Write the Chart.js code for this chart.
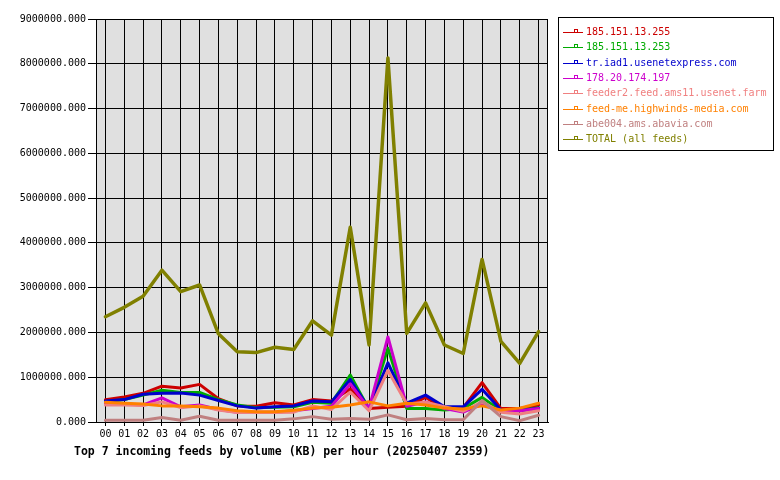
<!DOCTYPE html>
<html>
<head>
<meta charset="utf-8">
<script src="https://cdn.jsdelivr.net/npm/chart.js@4/dist/chart.umd.min.js"></script>
<style>
html,body{margin:0;padding:0;background:#fff;}
canvas{display:block;}
</style>
</head>
<body>
<canvas id="c" width="780" height="480"></canvas>
<script>
const hours = ['00','01','02','03','04','05','06','07','08','09','10','11','12','13','14','15','16','17','18','19','20','21','22','23'];
const feedNames = ['185.151.13.255','185.151.13.253','tr.iad1.usenetexpress.com','178.20.174.197','feeder2.feed.ams11.usenet.farm','feed-me.highwinds-media.com','abe004.ams.abavia.com','TOTAL (all feeds)'];
const feed255 = [500000,560000,640000,800000,760000,840000,520000,360000,350000,430000,380000,500000,470000,740000,300000,330000,350000,550000,300000,320000,880000,300000,300000,380000];
const feed253 = [450000,500000,600000,710000,660000,660000,500000,380000,320000,330000,340000,440000,420000,1050000,280000,1650000,300000,300000,270000,300000,550000,250000,260000,320000];
const feedUsenetexpress = [470000,500000,620000,640000,650000,600000,480000,360000,310000,340000,360000,470000,450000,950000,300000,1320000,420000,600000,340000,340000,730000,270000,250000,310000];
const feed197 = [420000,400000,380000,540000,340000,380000,280000,220000,220000,220000,250000,300000,350000,850000,300000,1900000,350000,450000,300000,220000,400000,250000,250000,300000];
const feedFeeder2 = [380000,380000,370000,450000,320000,360000,270000,210000,210000,210000,220000,360000,280000,670000,250000,1150000,400000,440000,340000,240000,450000,220000,180000,250000];
const feedHighwinds = [440000,420000,400000,360000,360000,340000,310000,250000,230000,230000,260000,310000,330000,380000,450000,360000,420000,380000,310000,290000,360000,270000,310000,420000];
const feedAbavia = [40000,40000,40000,100000,40000,130000,40000,40000,40000,40000,70000,120000,60000,80000,60000,160000,50000,80000,50000,50000,480000,120000,30000,150000];
const feedTotal = [2350000,2560000,2810000,3390000,2910000,3060000,1970000,1570000,1550000,1670000,1620000,2260000,1940000,4350000,1720000,8130000,1980000,2660000,1720000,1530000,3630000,1800000,1310000,2020000];
const yTickStep = 1000000;
const yMax = 9000000;
const chartTitle = 'Top 7 incoming feeds by volume (KB) per hour (20250407 2359)';

const seriesValues = [feed255, feed253, feedUsenetexpress, feed197, feedFeeder2, feedHighwinds, feedAbavia, feedTotal];
const seriesColors = ['#cc0000','#00aa00','#0000cc','#cc00cc','#f08080','#ff8000','#c08080','#808000'];

const FONT = 'DejaVu Sans Mono';

const datasets = seriesValues.map((vals, i) => ({
  label: feedNames[i],
  data: vals,
  borderColor: seriesColors[i],
  backgroundColor: seriesColors[i],
  borderWidth: i === seriesValues.length - 1 ? 3.5 : 3,
  borderJoinStyle: 'round',
  borderCapStyle: 'round',
  pointRadius: 0,
  tension: 0,
  fill: false,
  order: seriesValues.length - i
}));

const decor = {
  id: 'decor',
  beforeDraw(chart) {
    const a = chart.chartArea;
    const ctx = chart.ctx;
    ctx.save();
    ctx.fillStyle = '#fff';
    ctx.fillRect(0, 0, chart.width, chart.height);
    ctx.fillStyle = '#e0e0e0';
    ctx.fillRect(a.left, a.top, a.right - a.left, a.bottom - a.top);
    ctx.restore();
  },
  afterDraw(chart) {
    const a = chart.chartArea;
    const ctx = chart.ctx;
    ctx.save();
    ctx.strokeStyle = '#000';
    ctx.lineWidth = 1;
    ctx.strokeRect(Math.round(a.left) + 0.5, Math.round(a.top) + 0.5, Math.round(a.right - a.left) - 1, Math.round(a.bottom - a.top));
    // legend
    const lx = 558, ly = 17, lw = 215, lh = 133;
    ctx.fillStyle = '#fff';
    ctx.fillRect(lx, ly, lw, lh);
    ctx.strokeRect(lx + 0.5, ly + 0.5, lw, lh);
    ctx.font = '10px "' + FONT + '"';
    ctx.textBaseline = 'middle';
    ctx.textAlign = 'left';
    chart.data.datasets.forEach((ds, i) => {
      const y = Math.round(32 + i * 15.3) + 0.5;
      ctx.strokeStyle = ds.borderColor;
      ctx.beginPath();
      ctx.moveTo(563, y);
      ctx.lineTo(583, y);
      ctx.stroke();
      ctx.strokeRect(574.5, y - 3, 3, 3);
      ctx.fillStyle = ds.borderColor;
      ctx.fillText(ds.label, 586, y);
    });
    // title
    ctx.fillStyle = '#000';
    ctx.font = 'bold 11.5px "' + FONT + '"';
    ctx.textBaseline = 'middle';
    ctx.fillText(chartTitle, 74, 452);
    ctx.restore();
  }
};

new Chart(document.getElementById('c'), {
  type: 'line',
  data: { labels: hours, datasets },
  options: {
    responsive: false,
    animation: false,
    devicePixelRatio: 1,
    layout: { padding: { top: 19, right: 232, left: 0, bottom: 0 } },
    plugins: { legend: { display: false }, tooltip: { enabled: false }, title: { display: false } },
    scales: {
      x: {
        type: 'category',
        offset: true,
        grid: { offset: false, color: '#000', lineWidth: 1, tickLength: 4, drawTicks: true },
        border: { color: '#000' },
        ticks: { color: '#000', font: { family: FONT, size: 10 }, padding: 2, maxRotation: 0, autoSkip: false },
        afterFit(s) { s.height = 58; }
      },
      y: {
        min: 0,
        max: yMax,
        grid: { color: '#000', lineWidth: 1, tickLength: 8, drawTicks: true },
        border: { color: '#000' },
        ticks: { stepSize: yTickStep, color: '#000', font: { family: FONT, size: 10 }, padding: 2, callback: v => Number(v).toFixed(3) },
        afterFit(s) { s.width = 96; }
      }
    }
  },
  plugins: [decor]
});
</script>
</body>
</html>
